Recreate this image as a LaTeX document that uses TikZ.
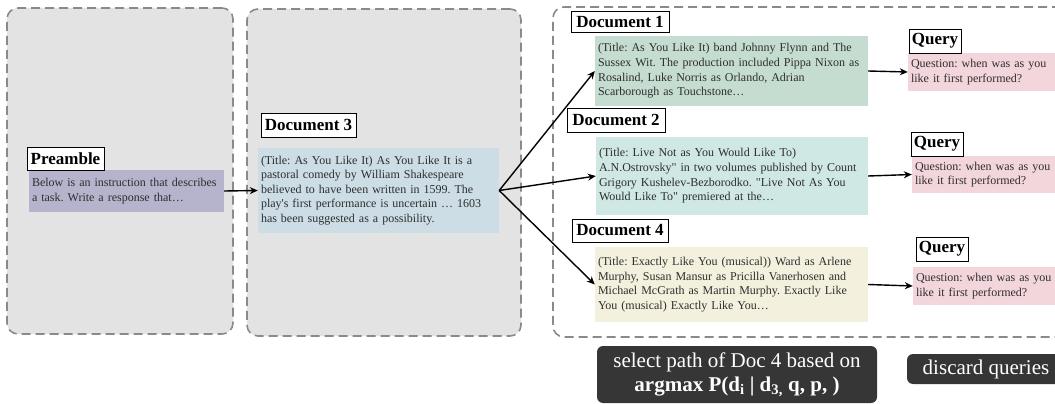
\documentclass[tikz,border=0pt]{standalone}
\usepackage{fontspec}
\setmainfont{Liberation Serif}[Ligatures=TeXOff]
\usetikzlibrary{arrows.meta}
\frenchspacing
\definecolor{panelfill}{HTML}{E3E3E3}
\definecolor{paneldraw}{HTML}{8A8A8A}
\definecolor{cpre}{HTML}{B6B3CD}
\definecolor{cdthree}{HTML}{CCDDE6}
\definecolor{cdone}{HTML}{C5DDD0}
\definecolor{cdtwo}{HTML}{CFE8E4}
\definecolor{cdfour}{HTML}{F4F0DE}
\definecolor{cquery}{HTML}{F2D6DC}
\definecolor{cdark}{HTML}{363636}
\definecolor{ctext}{HTML}{2E2E2E}
\tikzset{
  panel/.style={draw=paneldraw, fill=panelfill, line width=1.6pt, dash pattern=on 9pt off 5pt, rounded corners=11pt, inner sep=0pt},
  openpanel/.style={draw=paneldraw, line width=1.6pt, dash pattern=on 9pt off 5pt, rounded corners=11pt},
  tbox/.style={inner xsep=3pt, inner ysep=0pt, align=left, font=\fontsize{12}{14.6}\selectfont, text=ctext},
  lbl/.style={draw=black, fill=white, line width=0.8pt, inner sep=0pt, font=\fontsize{17}{19}\selectfont\bfseries},
  darkbox/.style={fill=cdark, rounded corners=6pt, text=white, inner sep=0pt, align=center},
  arr/.style={line width=1.4pt, -{Stealth[length=8pt,width=7pt]}}
}
\begin{document}
\begin{tikzpicture}[x=1pt,y=-1pt]
\useasboundingbox (0,0) rectangle (1055,404);
% panels
\node[panel, minimum width=226pt, minimum height=326pt] (p1) at (120,171) {};
\node[panel, minimum width=274pt, minimum height=327pt] (p2) at (384,172.5) {};
\draw[openpanel] (1075,7) -- (553,7) -- (553,337) -- (1075,337);
% content boxes
\node[tbox, fill=cpre, minimum width=195pt, minimum height=42pt, text width=189pt] (pre) at (126.5,191)
  {Below is an instruction that describes\\a task. Write a response that…};
\node[tbox, fill=cdthree, minimum width=241pt, minimum height=85pt, text width=235pt] (d3) at (378.5,190.5)
  {(Title: As You Like It) As You Like It is a\\pastoral comedy by William Shakespeare\\believed to have been written in 1599. The\\play's first performance is uncertain … 1603\\has been suggested as a possibility.};
\node[tbox, fill=cdone, minimum width=273pt, minimum height=70pt, text width=267pt] (d1) at (731.5,71)
  {(Title: As You Like It) band Johnny Flynn and The\\Sussex Wit. The production included Pippa Nixon as\\Rosalind, Luke Norris as Orlando, Adrian\\Scarborough as Touchstone…};
\node[tbox, fill=cdtwo, minimum width=272pt, minimum height=78pt, text width=266pt] (d2) at (732,176)
  {(Title: Live Not as You Would Like To)\\A.N.Ostrovsky" in two volumes published by Count\\Grigory Kushelev-Bezborodko. "Live Not As You\\Would Like To" premiered at the…};
\node[tbox, fill=cdfour, minimum width=273pt, minimum height=75pt, text width=267pt] (d4) at (731.5,284.5)
  {(Title: Exactly Like You (musical)) Ward as Arlene\\Murphy, Susan Mansur as Pricilla Vanerhosen and\\Michael McGrath as Martin Murphy. Exactly Like\\You (musical) Exactly Like You…};
\node[tbox, fill=cquery, minimum width=147pt, minimum height=38pt, text width=141pt] (q1) at (981.5,72)
  {Question: when was as you\\like it first performed?};
\node[tbox, fill=cquery, minimum width=143pt, minimum height=37pt, text width=137pt] (q2) at (983.5,174.5)
  {Question: when was as you\\like it first performed?};
\node[tbox, fill=cquery, minimum width=142pt, minimum height=38pt, text width=136pt] (q3) at (984,286)
  {Question: when was as you\\like it first performed?};
% labels
\node[lbl, minimum width=77pt, minimum height=23pt] (lpre) at (65.5,158.5) {Preamble};
\node[lbl, minimum width=95pt, minimum height=24pt] (ld3) at (308.5,125) {Document 3};
\node[lbl, minimum width=98pt, minimum height=21pt] (ld1) at (620,21.5) {Document 1};
\node[lbl, minimum width=98pt, minimum height=24pt] (ld2) at (616,120) {Document 2};
\node[lbl, minimum width=96pt, minimum height=23pt] (ld4) at (620,230.5) {Document 4};
\node[lbl, minimum width=52pt, minimum height=24pt] (lq1) at (935,41) {Query};
\node[lbl, minimum width=52pt, minimum height=24pt] (lq2) at (937,144) {Query};
\node[lbl, minimum width=52pt, minimum height=24pt] (lq3) at (942,249) {Query};
% bottom boxes
\node[darkbox, minimum width=280pt, minimum height=57pt, font=\fontsize{21}{24}\selectfont] (sel) at (737,374.5)
  {select path of Doc 4 based on\\\textbf{argmax P(d\textsubscript{i} | d\textsubscript{3,} q, p, )}};
\node[darkbox, minimum width=158pt, minimum height=30pt, font=\fontsize{21}{23}\selectfont] (disc) at (986,369) {discard queries};
% arrows
\draw[arr] (pre.east) -- (d3.west);
\draw[arr] (d3.east) -- (d1.west);
\draw[arr] (d3.east) -- (d2.west);
\draw[arr] (d3.east) -- (d4.west);
\draw[arr] (d1.east) -- (q1.west);
\draw[arr] (d2.east) -- (q2.west);
\draw[arr] (d4.east) -- (q3.west);
\end{tikzpicture}
\end{document}
